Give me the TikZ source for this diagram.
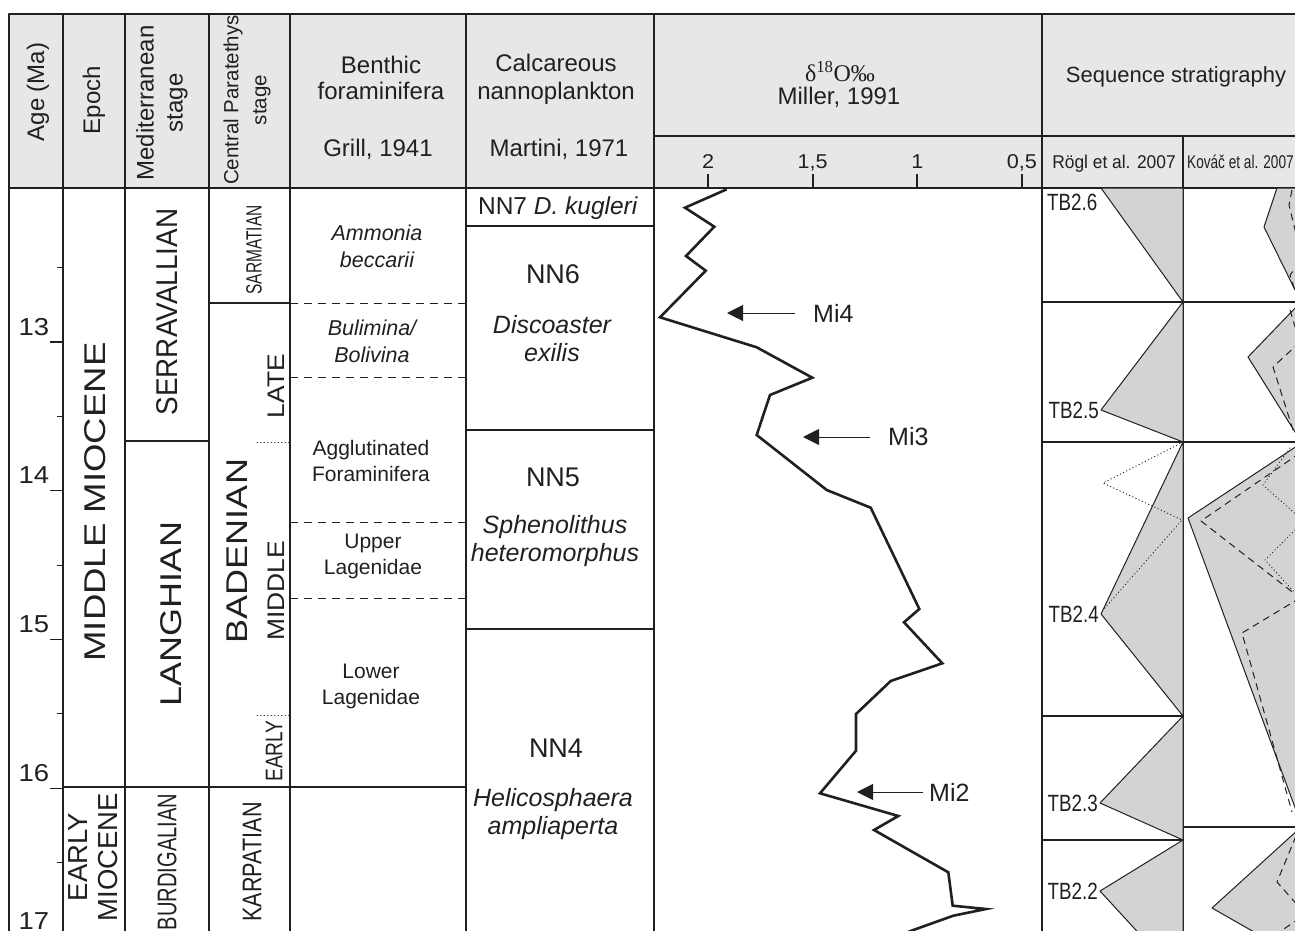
\documentclass[tikz,border=0pt]{standalone}
\usepackage{fontspec}
\usepackage{graphicx}
\setmainfont{Liberation Sans}
\newfontfamily\rmgreek{Liberation Serif}
\newfontfamily\narrow[FakeStretch=0.8]{Liberation Sans}
\usetikzlibrary{arrows.meta}
\definecolor{hdgray}{RGB}{230,231,232}
\definecolor{wedgegray}{RGB}{209,211,212}
\definecolor{ink}{RGB}{35,31,32}
\newcommand{\fs}[2]{\fontsize{#1}{#2}\selectfont}
\newcommand{\sx}[2]{\scalebox{#1}[1]{#2}}

\begin{document}
\begin{tikzpicture}[x=1pt,y=-1pt,line join=round,
  every node/.style={inner sep=0pt,text=ink},
  rule/.style={draw=ink,line width=1.1pt},
  dashrule/.style={draw=ink,line width=1pt,dash pattern=on 8pt off 6pt},
  dotrule/.style={draw=ink,line width=1pt,line cap=round,dash pattern=on 0.5pt off 3pt},
  kdash/.style={draw=ink,line width=1pt,dash pattern=on 7pt off 5pt},
  wedge/.style={fill=wedgegray,draw=ink,line width=1pt},
  hd/.style={font=\fs{24}{27},anchor=base},
  vt/.style={rotate=90},
  zone/.style={font=\fs{21}{26},align=center},
  nanno/.style={font=\fs{25}{28},align=center},
  nnlab/.style={font=\fs{27}{30}},
  mi/.style={font=\fs{25}{28},anchor=west},
  tb/.style={font=\narrow\fs{23.5}{26},anchor=east},
  marker/.style={draw=ink,line width=1pt,-{Triangle[length=16pt,width=16pt]}},
  curve/.style={draw=ink,line width=2.6pt,line join=miter}]
\useasboundingbox (0,0) rectangle (1295,931);
\clip (0,0) rectangle (1295,931);
\fill[hdgray] (9,14) rectangle (1300,188);
\draw[rule] (1300,14) -- (9,14) -- (9,940);
\draw[rule] (9,188) -- (1300,188);
\draw[rule] (654,136) -- (1300,136);
\foreach \x in {63,125,209,290,466,654,1042}
\draw[rule] (\x,14) -- (\x,940);
\draw[rule] (1183,136) -- (1183,940);
\draw[rule] (125,441) -- (209,441) (209,303) -- (290,303) (63,787) -- (466,787);
\draw[rule] (466,226) -- (654,226) (466,430) -- (654,430) (466,629) -- (654,629);
\draw[dashrule] (290,303) -- (466,303) (290,377) -- (466,377) (290,522) -- (466,522) (290,598) -- (466,598);
\draw[dotrule] (257,442) -- (290,442) (257,715) -- (290,715);
\draw[rule] (1042,302) -- (1300,302) (1042,442) -- (1300,442) (1042,716) -- (1183,716) (1042,840) -- (1183,840) (1183,827) -- (1300,827);
% header
\node[hd,vt,anchor=center] (agehd) at (38,92) {Age (Ma)};
\node[hd,vt,anchor=center] (epochhd) at (94,100) {Epoch};
\node[vt,font=\fs{24}{29},align=center] (medhd) at (162,103) {Mediterranean\\stage};
\node[vt,font=\fs{20.5}{28},align=center] (parhd) at (247,100) {Central Paratethys\\stage};
\node[hd] (benhd1) at (381,74) {Benthic};
\node[hd] (benhd2) at (381,100) {foraminifera};
\node[hd] (benhd3) at (378,157) {Grill, 1941};
\node[hd] (calhd1) at (556,72) {Calcareous};
\node[hd] (calhd2) at (556,100) {nannoplankton};
\node[hd] (calhd3) at (559,157) {Martini, 1971};
\node[hd,font=\rmgreek\fs{24}{27}] (isohd1) at (840,82) {δ\textsuperscript{18}O‰};
\node[hd] (isohd2) at (839,105) {Miller, 1991};
\node[hd,font=\fs{22}{24}] (seqhd) at (1176,83) {Sequence stratigraphy};
\node[hd,font=\fs{18.5}{20}] (roglhd) at (1114,168) {\sx{0.94}{Rögl et al. 2007}};
\node[hd,font=\narrow\fs{18.5}{20},anchor=base west] (kovachd) at (1187,168) {\sx{0.92}{Kováč et al. 2007}};
\foreach \v/\t [count=\i] in {2/2,1.5/{1,5},1/1,0.5/{0,5}}{
\pgfmathsetmacro\xx{708+(2-\v)*209.3}
\draw[ink,line width=2.2pt] (\xx,174) -- (\xx,188);
\node[font=\fs{20}{20},anchor=base] (dtick\i) at (\xx,168) {\sx{1.08}{\t}};
}
% age scale
\foreach \a in {13,...,17}{
\pgfmathsetmacro\yy{342+(\a-13)*148.7}
\draw[rule] (50,\yy) -- (63,\yy);
\node[font=\fs{24.5}{25},anchor=base] (age\a) at (34,\yy-7) {\sx{1.12}{\a}};
}
\foreach \a in {12.5,13.5,...,16.5}{
\pgfmathsetmacro\yy{342+(\a-13)*148.7}
\draw[rule] (57,\yy) -- (63,\yy);
}
% stages
\node[vt,font=\fs{30}{30}] (midmio) at (95,502) {\sx{1.22}{MIDDLE MIOCENE}};
\node[vt,font=\fs{27.5}{30},align=center] (earmio) at (93,857) {EARLY\\MIOCENE};
\node[vt,font=\fs{30}{30}] (serra) at (167,312) {\sx{0.93}{SERRAVALLIAN}};
\node[vt,font=\fs{30}{30}] (langh) at (171,614) {\sx{1.2}{LANGHIAN}};
\node[vt,font=\narrow\fs{27}{27}] (burdi) at (167,862) {\sx{0.93}{BURDIGALIAN}};
\node[vt,font=\narrow\fs{22}{22}] (sarma) at (254,250) {\sx{0.88}{SARMATIAN}};
\node[vt,font=\fs{30}{30}] (baden) at (237,551) {\sx{1.2}{BADENIAN}};
\node[vt,font=\fs{24}{24}] (late) at (276,386) {\sx{1.1}{LATE}};
\node[vt,font=\fs{24}{24}] (middle) at (276,591) {\sx{1.1}{MIDDLE}};
\node[vt,font=\narrow\fs{24}{24}] (early) at (274,751) {EARLY};
\node[vt,font=\narrow\fs{27}{27}] (karpa) at (252,862) {KARPATIAN};
% benthic zones
\node[zone,font=\itshape\fs{21.5}{27}] (ammonia) at (377,246) {Ammonia\\beccarii};
\node[zone,font=\itshape\fs{21.5}{27}] (bulimina) at (372,341) {Bulimina/\\Bolivina};
\node[zone] (agglut) at (371,461) {Agglutinated\\Foraminifera};
\node[zone] (upperlag) at (373,556) {Upper\\Lagenidae};
\node[zone] (lowerlag) at (371,686) {Lower\\Lagenidae};
% nannoplankton
\node[font=\fs{24.5}{26}] (nn7) at (558,208) {NN7 \textit{D. kugleri}};
\node[nnlab] (nn6) at (553,274) {NN6};
\node[nanno,font=\itshape\fs{25}{28}] (nn6sp) at (552,339) {Discoaster\\exilis};
\node[nnlab] (nn5) at (553,477) {NN5};
\node[nanno,font=\itshape\fs{25}{28}] (nn5sp) at (555,541) {Sphenolithus\\heteromorphus};
\node[nnlab] (nn4) at (556,748) {NN4};
\node[nanno,font=\itshape\fs{25}{28}] (nn4sp) at (553,814) {Helicosphaera\\ampliaperta};
% oxygen isotope curve
\draw[curve] plot coordinates {(726.7,189.3) (685,207.7) (714.3,226.7) (686,256) (705.7,270.7) (660,317.3) (756.7,347.3) (812.3,377.7) (770,395) (756.7,435) (826.7,490) (870.7,507.7) (919.3,609) (904,622.3) (942.3,663.3) (890.7,681) (856,714) (856,750.7) (820,793.3) (898.3,816) (874,830) (948.3,872.3) (952.7,905.7) (986,909) (953.3,915.7) (913.3,930) (895,937)};
\node[mi] (mi4) at (813,313) {Mi4};
\node[mi] (mi3) at (888,437) {Mi3};
\node[mi] (mi2) at (929,792) {Mi2};
\coordinate (mi4tip) at (727,313);
\coordinate (mi3tip) at (803,437);
\coordinate (mi2tip) at (857,792);
\draw[marker,shorten <=18pt] (mi4.west) -- (mi4tip);
\draw[marker,shorten <=18pt] (mi3.west) -- (mi3tip);
\draw[marker,shorten <=6pt] (mi2.west) -- (mi2tip);
% sequences, Rogl et al.
\draw[wedge] (1101,188) -- (1183,302) -- (1183,188) -- cycle;
\draw[wedge] (1183,302) -- (1101,410) -- (1183,442) -- cycle;
\draw[wedge] (1183,442) -- (1101,614) -- (1183,716) -- cycle;
\draw[wedge] (1183,716) -- (1100,803) -- (1183,840) -- cycle;
\draw[wedge] (1183,840) -- (1100,891) -- (1145,940) -- (1183,940) -- cycle;
\draw[dotrule] (1183,442) -- (1103,483) -- (1182,520) -- (1103,610);
\node[tb,anchor=north west] (tb26) at (1047,194) {TB2.6};
\node[tb] (tb25) at (1099,410) {TB2.5};
\node[tb] (tb24) at (1099,614) {TB2.4};
\node[tb] (tb23) at (1098,803) {TB2.3};
\node[tb] (tb22) at (1098,891) {TB2.2};
% sequences, Kovac et al.
\draw[wedge] (1277,188) -- (1264,227) -- (1300,300) -- (1300,188) -- cycle;
\draw[wedge] (1300,303) -- (1248,357) -- (1300,440) -- cycle;
\draw[wedge] (1300,444) -- (1188,518) -- (1300,821) -- cycle;
\draw[wedge] (1300,828) -- (1212,908) -- (1268,940) -- (1300,940) -- cycle;
\draw[kdash] (1292,190) -- (1289,205) -- (1300,250) (1300,262) -- (1290,275) -- (1298,300);
\draw[kdash] (1290,310) -- (1296,330) (1300,342) -- (1273,367) -- (1293,430);
\draw[kdash] (1300,453) -- (1201,521) -- (1300,598) (1300,598) -- (1242,633) -- (1292,812);
\draw[kdash] (1296,836) -- (1277,882) -- (1300,908) (1300,918) -- (1275,935);
\draw[dotrule] (1290,448) -- (1263,485) -- (1300,518) (1300,525) -- (1265,560) -- (1295,593);
\end{tikzpicture}
\end{document}
